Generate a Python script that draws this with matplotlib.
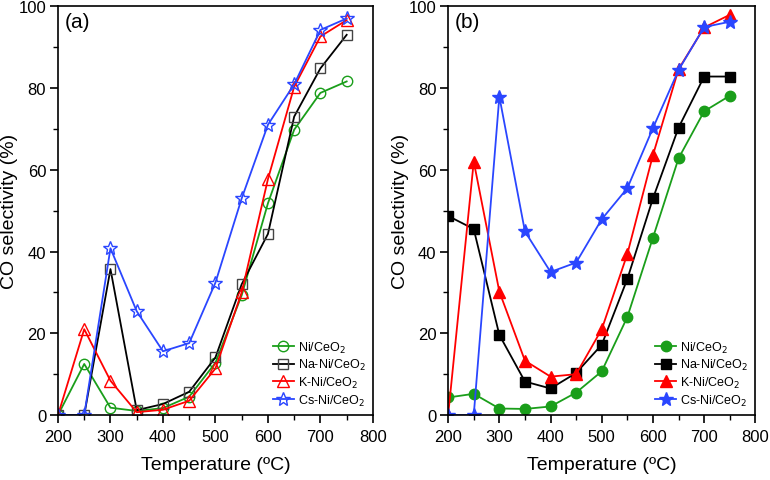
import numpy as np
import matplotlib.pyplot as plt
from matplotlib.ticker import MultipleLocator

plt.rcParams['font.family'] = ['Liberation Sans', 'DejaVu Sans']

# temperature points (ºC)
temp = [200, 250, 300, 350, 400, 450, 500, 550, 600, 650, 700, 750]
labels = ["Ni/CeO$_2$", "Na-Ni/CeO$_2$", "K-Ni/CeO$_2$", "Cs-Ni/CeO$_2$"]

# (a) CO selectivity (%)
a_ni = [0, 12.5, 1.8, 1.0, 1.7, 4.5, 12.8, 29.3, 51.8, 69.8, 78.8, 81.6]
a_na = [0, 0, 35.7, 1.2, 2.7, 5.7, 14.1, 32.0, 44.3, 73.0, 84.8, 93.0]
a_k = [0, 21.0, 8.4, 0.7, 1.3, 3.5, 11.4, 30.0, 57.7, 80.3, 92.6, 96.6]
a_cs = [0, 0, 40.8, 25.4, 15.6, 17.6, 32.4, 53.0, 71.0, 80.9, 94.2, 97.0]

# (b) CO selectivity (%)
b_ni = [4.3, 5.2, 1.6, 1.5, 2.1, 5.5, 10.7, 24.0, 43.4, 62.8, 74.3, 78.1]
b_na = [48.7, 45.5, 19.6, 8.2, 6.5, 10.3, 17.2, 33.3, 53.0, 70.3, 82.8, 82.8]
b_k = [0, 62.0, 30.2, 13.3, 9.4, 10.0, 21.0, 39.4, 63.6, 84.6, 94.8, 97.9]
b_cs = [0, 0, 77.9, 44.9, 35.0, 37.3, 47.9, 55.5, 70.2, 84.4, 94.9, 96.2]

colors = ["#1a9e1a", "black", "#ff0000", "#2a46ff"]
markers = ["o", "s", "^", "*"]
msizes = [7.5, 7.5, 9, 10]

fig = plt.figure(figsize=(7.7, 4.81), dpi=100)
ax1 = fig.add_axes([0.0753, 0.135, 0.409, 0.85])
ax2 = fig.add_axes([0.582, 0.135, 0.399, 0.85])

for ax, series, filled, tag in [(ax1, [a_ni, a_na, a_k, a_cs], False, "(a)"),
                                (ax2, [b_ni, b_na, b_k, b_cs], True, "(b)")]:
    for y, c, m, ms, lab in zip(series, colors, markers, msizes, labels):
        ax.plot(temp, y, color=c, marker=m, markersize=ms, linewidth=1.3,
                markerfacecolor=c if filled else "none",
                markeredgecolor=c if filled else ("#444444" if c == "black" else c),
                markeredgewidth=1.0, label=lab)
    ax.set_xlim(200, 800)
    ax.set_ylim(0, 100)
    ax.xaxis.set_major_locator(MultipleLocator(100))
    ax.xaxis.set_minor_locator(MultipleLocator(50))
    ax.yaxis.set_major_locator(MultipleLocator(20))
    ax.yaxis.set_minor_locator(MultipleLocator(10))
    ax.tick_params(which="major", direction="out", length=6, width=1.2, labelsize=12, pad=2.5)
    ax.tick_params(which="minor", direction="out", length=3.5, width=1.0)
    ax.tick_params(axis="x", which="major", pad=4)
    for s in ax.spines.values():
        s.set_linewidth(1.2)
    ax.set_xlabel("Temperature (ºC)", fontsize=14, labelpad=9)
    ax.set_ylabel("CO selectivity (%)", fontsize=14, labelpad=0)
    ax.text(0.02, 0.985, tag, transform=ax.transAxes, fontsize=15, va="top", ha="left")
    ax.legend(loc="lower right", frameon=False, fontsize=9, handlelength=1.7,
              handletextpad=0.3, labelspacing=0.2, borderaxespad=0.2)

plt.savefig("out.png", dpi=100)
